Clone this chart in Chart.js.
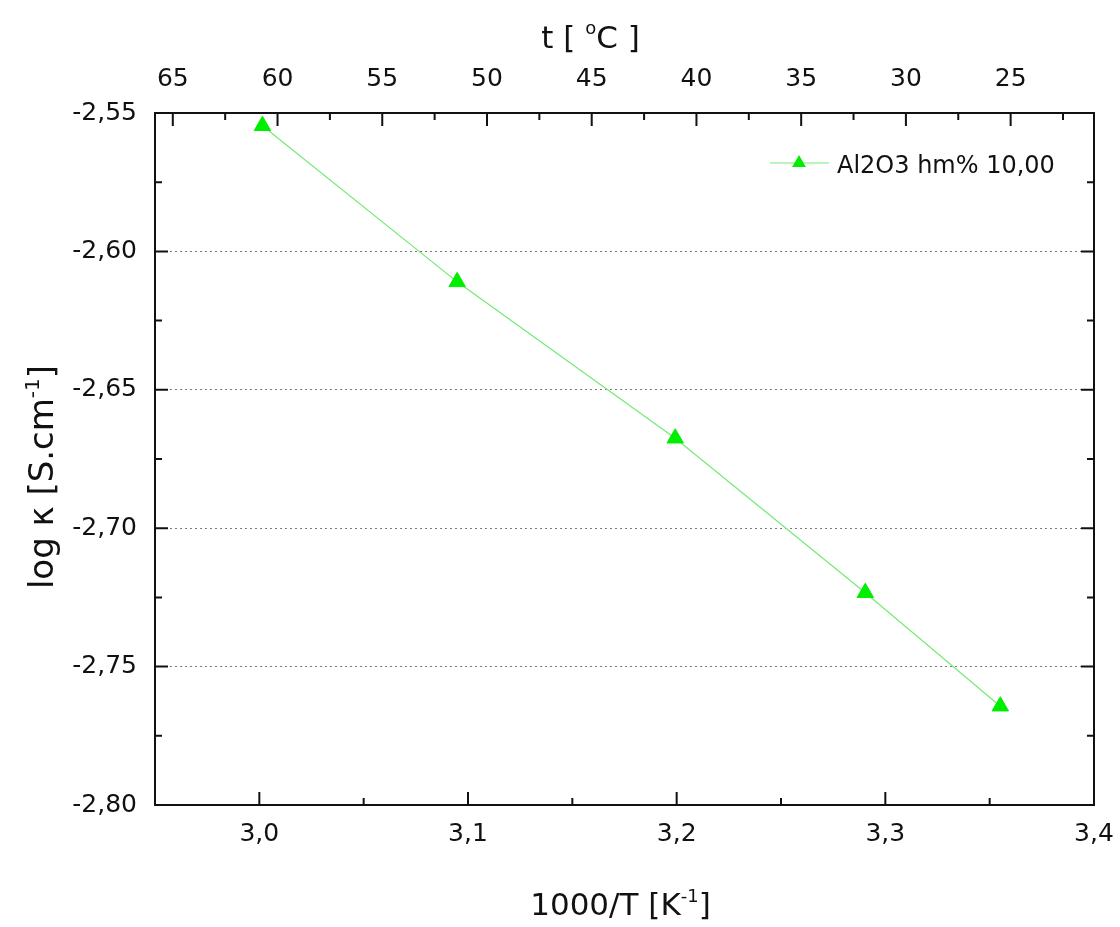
<!DOCTYPE html>
<html>
<head>
<meta charset="utf-8">
<script src="https://cdn.jsdelivr.net/npm/chart.js"></script>
<style>
  html, body { margin: 0; padding: 0; background: #fff; }
  #wrap { width: 1120px; height: 927px; position: relative; }
</style>
</head>
<body>
<div id="wrap"><canvas id="c"></canvas></div>
<script>
// ---- data ----
const invT = [3.0015, 3.0948, 3.1993, 3.2904, 3.3551];        // 1000/T [K^-1]
const logK = [-2.5546, -2.6110, -2.6675, -2.7233, -2.7643];    // log kappa
const seriesName = 'Al2O3 hm% 10,00';
const xTicks = [3.0, 3.1, 3.2, 3.3, 3.4];
const yTicks = [-2.80, -2.75, -2.70, -2.65, -2.60, -2.55];
const tTicks = [65, 60, 55, 50, 45, 40, 35, 30, 25];

const FONT = 'DejaVu Sans';
const LINE_COLOR = '#74ea74';
const MARK_COLOR = '#00ee00';
Chart.defaults.font.family = FONT;
Chart.defaults.color = '#111';

function richText(ctx, parts, x, y, size, supSize, supRise) {
  let total = 0;
  const widths = parts.map(p => {
    ctx.font = (p.sup ? supSize : size) + 'px "' + FONT + '"';
    const w = ctx.measureText(p.t).width;
    total += w;
    return w;
  });
  let cx = x - total / 2;
  ctx.textAlign = 'left';
  ctx.textBaseline = 'alphabetic';
  parts.forEach((p, i) => {
    ctx.font = (p.sup ? supSize : size) + 'px "' + FONT + '"';
    ctx.fillText(p.t, cx, p.sup ? y - supRise : y);
    cx += widths[i];
  });
}

function tri(ctx, x, y, r) {
  ctx.beginPath();
  ctx.moveTo(x, y - r);
  ctx.lineTo(x + r * Math.sin(2 * Math.PI / 3), y - r * Math.cos(2 * Math.PI / 3));
  ctx.lineTo(x + r * Math.sin(4 * Math.PI / 3), y - r * Math.cos(4 * Math.PI / 3));
  ctx.closePath();
}

const framePlugin = {
  id: 'frame',
  afterDraw(chart) {
    const ctx = chart.ctx;
    const a = chart.chartArea;
    const sx = chart.scales.x, sy = chart.scales.y, st = chart.scales.x2;
    const MAJ = 13, MIN = 7;
    ctx.save();
    ctx.strokeStyle = '#111';
    ctx.lineWidth = 2;
    ctx.strokeRect(a.left, a.top, a.right - a.left, a.bottom - a.top);
    ctx.beginPath();
    // bottom ticks (inward)
    xTicks.forEach((v, i) => {
      const p = sx.getPixelForValue(v);
      ctx.moveTo(p, a.bottom); ctx.lineTo(p, a.bottom - MAJ);
      if (i < xTicks.length - 1) {
        const m = sx.getPixelForValue((v + xTicks[i + 1]) / 2);
        ctx.moveTo(m, a.bottom); ctx.lineTo(m, a.bottom - MIN);
      }
    });
    // top ticks (temperature)
    tTicks.forEach((v, i) => {
      const p = st.getPixelForValue(v);
      ctx.moveTo(p, a.top); ctx.lineTo(p, a.top + MAJ);
      if (i < tTicks.length - 1) {
        const m = st.getPixelForValue((v + tTicks[i + 1]) / 2);
        ctx.moveTo(m, a.top); ctx.lineTo(m, a.top + MIN);
      }
    });
    const last = tTicks[tTicks.length - 1];
    const extra = last - (tTicks[0] - tTicks[1]) / 2;
    if (extra >= st.min) {
      const m = st.getPixelForValue(extra);
      ctx.moveTo(m, a.top); ctx.lineTo(m, a.top + MIN);
    }
    // left and right ticks
    yTicks.forEach((v, i) => {
      const p = sy.getPixelForValue(v);
      ctx.moveTo(a.left, p); ctx.lineTo(a.left + MAJ, p);
      ctx.moveTo(a.right, p); ctx.lineTo(a.right - MAJ, p);
      if (i < yTicks.length - 1) {
        const m = sy.getPixelForValue((v + yTicks[i + 1]) / 2);
        ctx.moveTo(a.left, m); ctx.lineTo(a.left + MIN, m);
        ctx.moveTo(a.right, m); ctx.lineTo(a.right - MIN, m);
      }
    });
    ctx.stroke();

    // axis titles
    ctx.fillStyle = '#111';
    const midX = (a.left + a.right) / 2;
    richText(ctx, [{t: '1000/T [K'}, {t: '-1', sup: true}, {t: ']'}], midX - 4, 915, 31, 18, 13);
    richText(ctx, [{t: 't [ '}, {t: 'o', sup: true}, {t: 'C ]'}], midX - 34, 48, 31, 18, 14);
    ctx.save();
    ctx.translate(53, (a.top + a.bottom) / 2 + 18);
    ctx.rotate(-Math.PI / 2);
    richText(ctx, [{t: 'log κ [S.cm'}, {t: '-1', sup: true}, {t: ']'}], 0, 0, 34, 20, 14);
    ctx.restore();

    // legend
    const ds = chart.data.datasets[0];
    const ly = 163;
    ctx.strokeStyle = ds.borderColor;
    ctx.lineWidth = 1;
    ctx.beginPath(); ctx.moveTo(770, ly); ctx.lineTo(829, ly); ctx.stroke();
    ctx.fillStyle = ds.pointBackgroundColor;
    tri(ctx, 799, ly, 8); ctx.fill();
    ctx.fillStyle = '#111';
    ctx.font = '24px "' + FONT + '"';
    ctx.textAlign = 'left';
    ctx.textBaseline = 'alphabetic';
    ctx.fillText(ds.label, 837, 173);
    ctx.restore();
  }
};

const near = (a, b) => Math.abs(a - b) < 1e-9;
const noPad = s => { s.paddingLeft = 0; s.paddingRight = 0; s.paddingTop = 0; s.paddingBottom = 0; };

new Chart(document.getElementById('c'), {
  type: 'scatter',
  data: {
    datasets: [{
      label: seriesName,
      data: invT.map((x, i) => ({x: x, y: logK[i]})),
      showLine: true,
      borderColor: LINE_COLOR,
      borderWidth: 1.2,
      pointStyle: 'triangle',
      pointRadius: 9.5,
      pointHoverRadius: 9.5,
      pointBackgroundColor: MARK_COLOR,
      pointBorderColor: MARK_COLOR,
      pointBorderWidth: 1,
      xAxisID: 'x',
      yAxisID: 'y'
    }]
  },
  options: {
    responsive: true,
    maintainAspectRatio: false,
    animation: false,
    layout: { padding: { left: 0, right: 26, top: 0, bottom: 0 } },
    plugins: { legend: { display: false }, tooltip: { enabled: false } },
    scales: {
      x: {
        type: 'linear', position: 'bottom', min: 2.95, max: 3.40,
        afterBuildTicks: s => { s.ticks = xTicks.map(v => ({value: v})); },
        afterFit: s => { s.height = 122; noPad(s); },
        grid: { display: false, drawTicks: false },
        border: { display: false },
        ticks: {
          padding: 14, maxRotation: 0, autoSkip: false,
          font: { size: 25, family: FONT }, color: '#111',
          callback: v => Number(v).toFixed(1).replace('.', ',')
        }
      },
      x2: {
        type: 'linear', position: 'top', reverse: true, min: 21.02, max: 65.85,
        afterBuildTicks: s => { s.ticks = tTicks.map(v => ({value: v})); },
        afterFit: s => { s.height = 113; noPad(s); },
        grid: { display: false, drawTicks: false },
        border: { display: false },
        ticks: {
          padding: 19, maxRotation: 0, autoSkip: false,
          font: { size: 25, family: FONT }, color: '#111',
          callback: v => String(v)
        }
      },
      y: {
        type: 'linear', position: 'left', min: -2.80, max: -2.55,
        afterBuildTicks: s => { s.ticks = yTicks.map(v => ({value: v})); },
        afterFit: s => { s.width = 155; noPad(s); },
        grid: {
          drawTicks: false,
          lineWidth: 1,
          color: c => (c.tick && (near(c.tick.value, -2.80) || near(c.tick.value, -2.55))) ? 'rgba(0,0,0,0)' : '#7a7a7a'
        },
        border: { display: false, dash: [2, 3] },
        ticks: {
          padding: 18, autoSkip: false,
          font: { size: 25, family: FONT }, color: '#111',
          callback: v => Number(v).toFixed(2).replace('.', ',')
        }
      }
    }
  },
  plugins: [framePlugin]
});
</script>
</body>
</html>
